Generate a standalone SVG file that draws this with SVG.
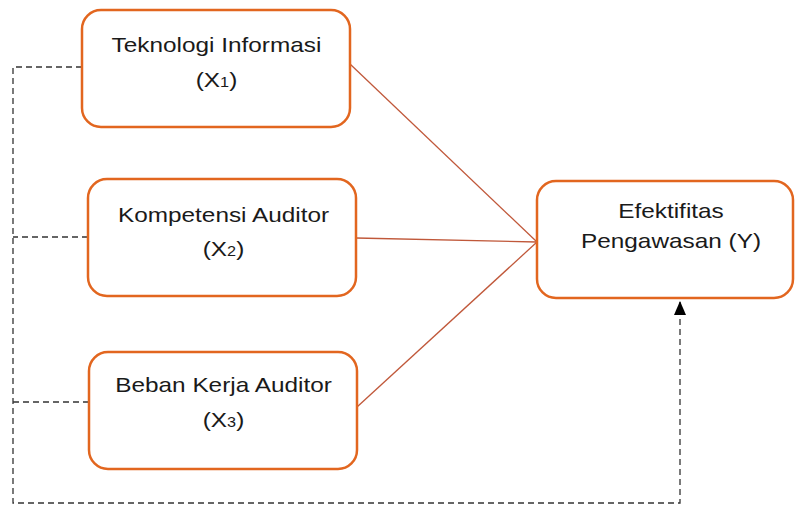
<svg xmlns="http://www.w3.org/2000/svg" width="795" height="506" viewBox="0 0 795 506">
<style>
.box{fill:#fff;stroke:#E2661F;stroke-width:2.5}
.t{font-family:"Liberation Sans",Arial,sans-serif;font-size:21px;fill:#1a1a1a;text-anchor:middle}
.s{font-size:14px}
.rel{stroke:#C0583A;stroke-width:1.3;fill:none}
.dash{stroke:#333;stroke-width:1.3;fill:none;stroke-dasharray:6,4}
</style>
<defs>
<marker id="ah" markerWidth="14" markerHeight="12" refX="13" refY="6" orient="auto" markerUnits="userSpaceOnUse" viewBox="0 0 14 12">
<path d="M0,0 L14,6 L0,12 Z" fill="#000"/>
</marker>
</defs>
<rect width="795" height="506" fill="#fff"/>
<g id="connectors">
<line class="rel" x1="350" y1="64" x2="537" y2="242"/>
<line class="rel" x1="356" y1="238" x2="537" y2="242"/>
<line class="rel" x1="357" y1="407" x2="537" y2="242"/>
<path class="dash" d="M82,67 H13 V503 H680 V302" marker-end="url(#ah)"/>
<line class="dash" x1="88" y1="237" x2="13" y2="237"/>
<line class="dash" x1="89" y1="402" x2="13" y2="402"/>
</g>
<g id="x1">
<rect class="box" x="82" y="10" width="268" height="117" rx="19"/>
<text class="t" transform="translate(216.5,52) scale(1.16,1)">Teknologi Informasi</text>
<text class="t" transform="translate(216.5,87) scale(1.16,1)">(X<tspan class="s">1</tspan>)</text>
</g>
<g id="x2">
<rect class="box" x="88" y="179" width="268" height="117" rx="19"/>
<text class="t" transform="translate(223.5,222) scale(1.16,1)">Kompetensi Auditor</text>
<text class="t" transform="translate(223.5,256) scale(1.16,1)">(X<tspan class="s">2</tspan>)</text>
</g>
<g id="x3">
<rect class="box" x="89" y="352" width="268" height="117" rx="19"/>
<text class="t" transform="translate(223.5,392) scale(1.16,1)">Beban Kerja Auditor</text>
<text class="t" transform="translate(223.5,427) scale(1.16,1)">(X<tspan class="s">3</tspan>)</text>
</g>
<g id="y">
<rect class="box" x="537" y="181" width="256" height="117" rx="19"/>
<text class="t" transform="translate(671,218) scale(1.16,1)">Efektifitas</text>
<text class="t" transform="translate(671,248) scale(1.16,1)">Pengawasan (Y)</text>
</g>
</svg>
